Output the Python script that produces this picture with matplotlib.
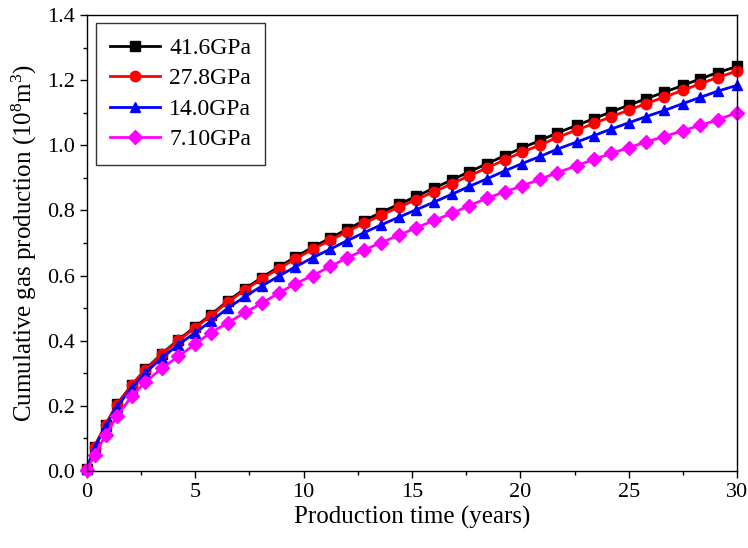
import matplotlib
matplotlib.use("Agg")
import matplotlib.pyplot as plt
from matplotlib.ticker import MultipleLocator

plt.rcParams['font.family'] = ['Liberation Serif', 'DejaVu Serif']
plt.rcParams['mathtext.fontset'] = 'custom'
plt.rcParams['mathtext.rm'] = 'Liberation Serif'
plt.rcParams['mathtext.it'] = 'Liberation Serif:italic'

# production time (years) at the plotted points
years = [0, 0.35, 0.86, 1.38, 2.07, 2.69, 3.45, 4.22, 5.0, 5.72, 6.5, 7.3, 8.07, 8.84,
         9.62, 10.42, 11.22, 12.0, 12.8, 13.55, 14.42, 15.19, 16.03, 16.85, 17.65,
         18.45, 19.27, 20.08, 20.92, 21.7, 22.6, 23.4, 24.2, 25.0, 25.8, 26.65, 27.5,
         28.3, 29.1, 30.0]

# cumulative gas production (10^8 m^3)
gas_41_6 = [0.005, 0.075, 0.142, 0.205, 0.264, 0.312, 0.36, 0.403, 0.443, 0.48, 0.522,
            0.56, 0.594, 0.626, 0.657, 0.687, 0.715, 0.742, 0.769, 0.793, 0.82, 0.843,
            0.869, 0.894, 0.919, 0.943, 0.968, 0.992, 1.015, 1.038, 1.061, 1.082, 1.103,
            1.123, 1.143, 1.163, 1.184, 1.204, 1.223, 1.242]
gas_27_8 = [0.005, 0.075, 0.141, 0.204, 0.263, 0.311, 0.358, 0.401, 0.44, 0.477, 0.519,
            0.556, 0.590, 0.621, 0.651, 0.681, 0.708, 0.735, 0.761, 0.785, 0.811, 0.833,
            0.858, 0.882, 0.907, 0.930, 0.955, 0.979, 1.001, 1.024, 1.047, 1.067, 1.088,
            1.108, 1.128, 1.148, 1.169, 1.189, 1.208, 1.228]
gas_14_0 = [0.005, 0.072, 0.137, 0.198, 0.255, 0.301, 0.347, 0.388, 0.425, 0.46, 0.5,
            0.536, 0.568, 0.598, 0.627, 0.655, 0.681, 0.707, 0.732, 0.755, 0.78, 0.802,
            0.826, 0.85, 0.874, 0.897, 0.921, 0.944, 0.966, 0.988, 1.01, 1.03, 1.05,
            1.069, 1.088, 1.107, 1.128, 1.147, 1.166, 1.184]
gas_7_10 = [0.003, 0.05, 0.11, 0.168, 0.23, 0.273, 0.315, 0.352, 0.39, 0.425, 0.455,
            0.487, 0.515, 0.546, 0.575, 0.6, 0.628, 0.654, 0.679, 0.7, 0.725, 0.746,
            0.77, 0.791, 0.815, 0.837, 0.857, 0.875, 0.896, 0.916, 0.937, 0.957, 0.975,
            0.993, 1.01, 1.027, 1.045, 1.061, 1.078, 1.1]

labels = ['41.6GPa', '27.8GPa', '14.0GPa', '7.10GPa']
colors = ['black', 'red', 'blue', 'magenta']
markers = ['s', 'o', '^', 'D']

fig = plt.figure(figsize=(7.48, 5.48), dpi=100)
ax = fig.add_axes([0.1163, 0.1405, 0.869, 0.8321])

for series, lab, c, m in zip([gas_41_6, gas_27_8, gas_14_0, gas_7_10], labels, colors, markers):
    ax.plot(years, series, color=c, marker=m, markersize=7.5 if m != 'D' else 7,
            linewidth=2, label=lab, clip_on=False)

ax.set_xlim(0, 30)
ax.set_ylim(0, 1.4)
ax.xaxis.set_major_locator(MultipleLocator(5))
ax.xaxis.set_minor_locator(MultipleLocator(2.5))
ax.yaxis.set_major_locator(MultipleLocator(0.2))
ax.yaxis.set_minor_locator(MultipleLocator(0.1))
ax.yaxis.set_major_formatter(matplotlib.ticker.FormatStrFormatter('%.1f'))
ax.tick_params(which='both', direction='out', labelsize=16, width=1)
ax.tick_params(which='major', length=5)
ax.tick_params(which='minor', length=3)
for s in ax.spines.values():
    s.set_linewidth(1)

ax.set_xlabel('Production time (years)', fontsize=18, labelpad=3)
ax.set_ylabel('Cumulative gas production (10$^8$m$^3$)', fontsize=18, labelpad=6)

leg = ax.legend(loc='upper left', fontsize=17, frameon=True, fancybox=False,
                edgecolor='black', handlelength=2.1, borderpad=0.6,
                handletextpad=0.4, labelspacing=0.38, borderaxespad=0,
                bbox_to_anchor=(0.014, 0.982))
leg.get_frame().set_linewidth(1)

fig.savefig('out.png', dpi=100)
